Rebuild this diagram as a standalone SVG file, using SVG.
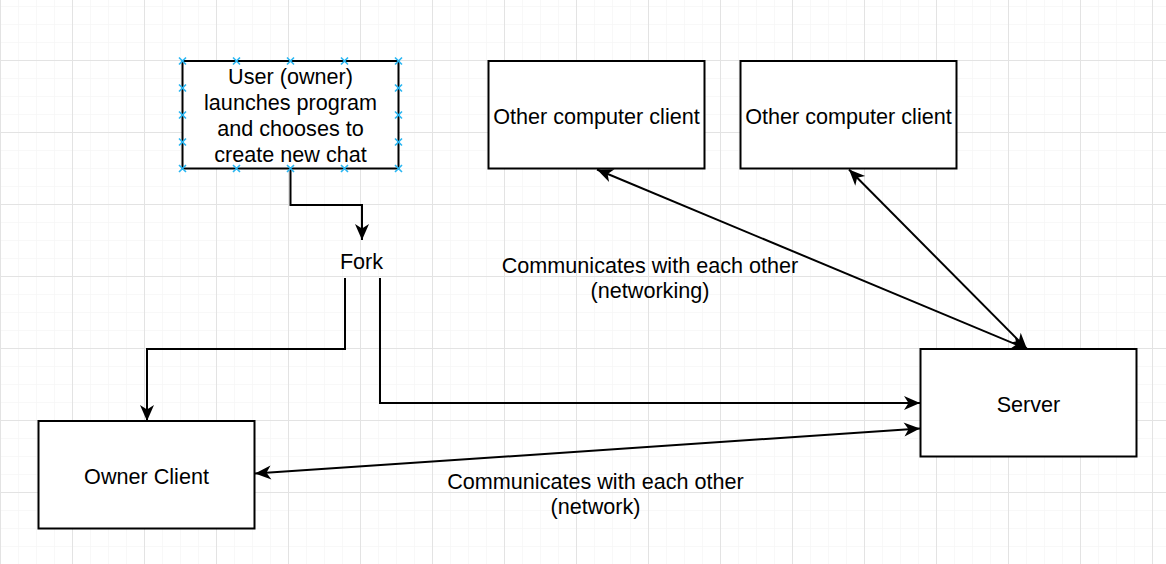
<svg xmlns="http://www.w3.org/2000/svg" width="1166" height="564" viewBox="0 0 1166 564">
<style>
.box{fill:#fff;stroke:#000;stroke-width:2}
.t{font-family:"Liberation Sans",Arial,Helvetica,sans-serif;font-size:21.6px;fill:#000;text-anchor:middle}
.edge{fill:none;stroke:#000;stroke-width:2}
.pt{stroke:#29b6f2;stroke-width:1.6;fill:none}
</style>
<defs>
<pattern id="minor" width="18" height="18" patternUnits="userSpaceOnUse" x="0" y="6">
<path d="M0,0 H18 M0,0 V18" fill="none" stroke="#f2f2f2" stroke-width="1"/>
</pattern>
<pattern id="major" width="72" height="72" patternUnits="userSpaceOnUse" x="0" y="60">
<path d="M0,0.5 H72 M0.5,0 V72" fill="none" stroke="#e3e3e3" stroke-width="1"/>
</pattern>
<marker id="arr" markerUnits="userSpaceOnUse" viewBox="-17 -8 18 16" refX="0" refY="0" markerWidth="18" markerHeight="16" orient="auto-start-reverse">
<path d="M0,0 L-16,-7 L-11.5,0 L-16,7 Z" fill="#000"/>
</marker>
<path id="x" d="M-3.5,-3.5 L3.5,3.5 M-3.5,3.5 L3.5,-3.5" class="pt"/>
</defs>
<rect width="1166" height="564" fill="#fff"/>
<rect width="1166" height="564" fill="url(#minor)"/>
<rect width="1166" height="564" fill="url(#major)"/>

<g id="connectors">
<path class="edge" d="M290.5,168.5 V205 H362 V240" marker-end="url(#arr)"/>
<path class="edge" d="M345,278 V349 H147 V421" marker-end="url(#arr)"/>
<path class="edge" d="M380,278 V403 H920" marker-end="url(#arr)"/>
<path class="edge" d="M255,473.5 L920,428.5" marker-start="url(#arr)" marker-end="url(#arr)"/>
<path class="edge" d="M597,169.5 L1027,349" marker-start="url(#arr)" marker-end="url(#arr)"/>
<path class="edge" d="M849,169.5 L1027,349" marker-start="url(#arr)" marker-end="url(#arr)"/>
</g>

<g id="user">
<rect class="box" x="182.5" y="61" width="216" height="107.5"/>
<text class="t" x="290.5" y="84.3">User (owner)</text>
<text class="t" x="290.5" y="110.1">launches program</text>
<text class="t" x="290.5" y="135.9">and chooses to</text>
<text class="t" x="290.5" y="161.5">create new chat</text>
<g>
<use href="#x" x="182.5" y="61"/><use href="#x" x="236.5" y="61"/><use href="#x" x="290.5" y="61"/><use href="#x" x="344.5" y="61"/><use href="#x" x="398.5" y="61"/>
<use href="#x" x="182.5" y="168.5"/><use href="#x" x="236.5" y="168.5"/><use href="#x" x="290.5" y="168.5"/><use href="#x" x="344.5" y="168.5"/><use href="#x" x="398.5" y="168.5"/>
<use href="#x" x="182.5" y="88"/><use href="#x" x="182.5" y="115"/><use href="#x" x="182.5" y="142"/>
<use href="#x" x="398.5" y="88"/><use href="#x" x="398.5" y="115"/><use href="#x" x="398.5" y="142"/>
</g>
</g>

<g id="client1">
<rect class="box" x="488.5" y="61" width="216" height="107.5"/>
<text class="t" x="596.5" y="123.5">Other computer client</text>
</g>

<g id="client2">
<rect class="box" x="740.5" y="61" width="216" height="107.5"/>
<text class="t" x="848.5" y="123.5">Other computer client</text>
</g>

<g id="fork">
<text class="t" x="361.5" y="268.5">Fork</text>
</g>

<g id="server">
<rect class="box" x="920.5" y="349" width="216" height="107.5"/>
<text class="t" x="1028.5" y="411.5">Server</text>
</g>

<g id="owner">
<rect class="box" x="38.5" y="421" width="216" height="107.5"/>
<text class="t" x="146.5" y="483.5">Owner Client</text>
</g>

<g id="label-networking">
<text class="t" x="650" y="272.5">Communicates with each other</text>
<text class="t" x="650" y="298.3">(networking)</text>
</g>

<g id="label-network">
<text class="t" x="595.5" y="488.5">Communicates with each other</text>
<text class="t" x="595.5" y="514.3">(network)</text>
</g>
</svg>
